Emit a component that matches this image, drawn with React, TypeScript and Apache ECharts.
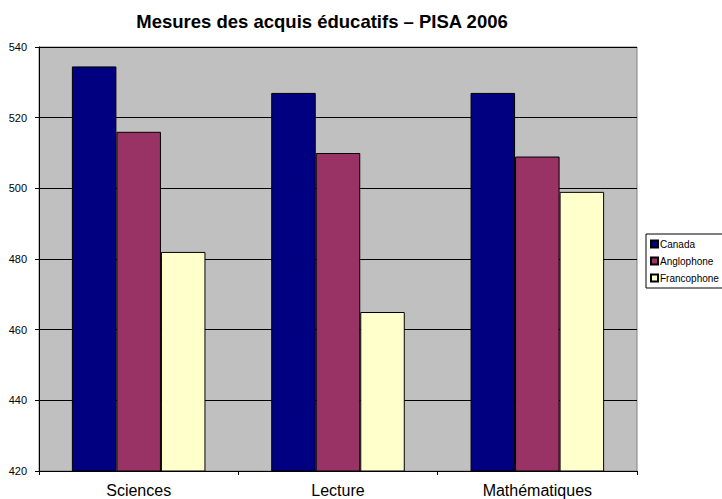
import React, { useEffect, useRef } from "react";
import * as echarts from "echarts";

const categories = ["Sciences", "Lecture", "Mathématiques"];
const seriesNames = ["Canada", "Anglophone", "Francophone"];
const canada = [534.5, 527, 527];
const anglophone = [516, 510, 509];
const francophone = [482, 465, 499];
const colors = ["#000080", "#993366", "#FFFFCC"];
const titleText = "Mesures des acquis éducatifs – PISA 2006";

const FONT = "'Liberation Sans', Arial, Helvetica, sans-serif";

export default function App() {
  const ref = useRef<HTMLDivElement>(null);
  useEffect(() => {
    if (!ref.current) return;
    const chart = echarts.init(ref.current, null, { renderer: "svg" });
    const values = [canada, anglophone, francophone];
    chart.setOption({
      animation: false,
      backgroundColor: "#ffffff",
      textStyle: { fontFamily: FONT },
      title: {
        text: titleText,
        left: 317,
        textAlign: "center",
        top: 7,
        textStyle: { fontSize: 18.5, fontWeight: "bold", color: "#000", fontFamily: FONT },
      },
      legend: {
        orient: "vertical",
        left: 646,
        top: 234,
        itemWidth: 7,
        itemHeight: 7,
        itemGap: 7,
        padding: [5, 8, 5, 4],
        borderColor: "#000",
        borderWidth: 1,
        icon: "rect",
        textStyle: { fontSize: 10, color: "#000", fontFamily: FONT, padding: [0, 0, 0, -3] },
        data: seriesNames,
      },
      grid: {
        left: 39,
        right: 85,
        top: 47,
        bottom: 28,
        show: true,
        backgroundColor: "#C0C0C0",
        borderColor: "#808080",
        borderWidth: 1,
      },
      xAxis: {
        type: "category",
        data: categories,
        axisTick: { show: true, alignWithLabel: false, length: 4, lineStyle: { color: "#000" } },
        axisLine: { lineStyle: { color: "#000" } },
        axisLabel: { fontSize: 16, color: "#000", margin: 11, fontFamily: FONT },
      },
      yAxis: {
        type: "value",
        min: 420,
        max: 540,
        interval: 20,
        axisLine: { show: true, lineStyle: { color: "#000" } },
        axisTick: { show: true, length: 4, lineStyle: { color: "#000" } },
        axisLabel: { fontSize: 11, color: "#000", margin: 12, fontFamily: FONT },
        splitLine: { show: true, lineStyle: { color: "#000", width: 1 } },
      },
      series: seriesNames.map((name, i) => ({
        name,
        type: "bar",
        data: values[i],
        barGap: "0%",
        barCategoryGap: "33%",
        itemStyle: { color: colors[i], borderColor: "#000", borderWidth: 1 },
      })),
    });
    return () => chart.dispose();
  }, []);
  return <div ref={ref} style={{ width: 722, height: 499, position: "absolute", left: 0, top: 0 }} />;
}
